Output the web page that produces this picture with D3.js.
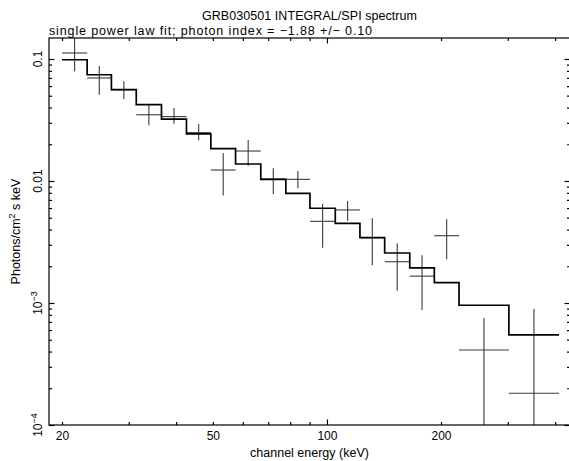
<!DOCTYPE html>
<html lang="en">
<head>
  <meta charset="UTF-8" />
  <title>GRB030501 INTEGRAL/SPI spectrum</title>
  <script src="https://d3js.org/d3.v7.min.js"></script>
  <style>
    body {
      margin: 0;
      padding: 0;
      background: #ffffff;
      font-family: 'Liberation Sans', 'DejaVu Sans', sans-serif;
    }
    svg text { fill: #000; }
    .frame { fill: none; stroke: #000; stroke-width: 1.2; }
    .axis path { display: none; }
    .axis line { stroke: #000; stroke-width: 1.2; }
    .cross { stroke: #3a3a3a; stroke-width: 1.1; fill: none; }
    .model { stroke: #000; stroke-width: 1.7; fill: none; }
  </style>
</head>
<body>
  <div id="chart"></div>

  <script>
    // channel bin edges (keV)
    const binEdges = [20, 23.3, 27.0, 31.4, 36.6, 42.6, 49.4, 57.4, 66.9, 77.9,
                      90.2, 105.2, 122.2, 142.0, 165.4, 192.0, 223.1, 302.0, 409.5];

    // folded power-law model, one value per bin (photons/cm2 s keV)
    const modelFlux = [0.0986, 0.0743, 0.0560, 0.0422, 0.0322, 0.0243, 0.0184, 0.01378, 0.01032,
                       0.00793, 0.00598, 0.00450, 0.00343, 0.00257, 0.00194, 0.001467, 0.000958, 0.000547];

    // measured flux with lower / upper 1-sigma ends
    const dataFlux = [0.112, 0.0699, 0.0560, 0.0349, 0.0337, 0.0249, 0.0123, 0.0176, 0.01038,
                      0.01032, 0.00467, 0.00579, 0.00343, 0.00218, 0.00166, 0.00356, 0.000412, 0.000182];
    const errLow = [0.0793, 0.0510, 0.0470, 0.0286, 0.0295, 0.0216, 0.0076, 0.01334, 0.00778,
                    0.00871, 0.00284, 0.00473, 0.00204, 0.00126, 0.000877, 0.00228, 0.00001, 0.00001];
    const errHigh = [0.148, 0.0877, 0.0657, 0.0422, 0.0397, 0.0293, 0.0170, 0.0217, 0.0127,
                     0.0121, 0.00648, 0.00686, 0.00495, 0.00309, 0.00246, 0.00485, 0.000754, 0.000893];

    const xMinorTicks = [20, 30, 40, 50, 60, 70, 80, 90, 200, 300, 400];
    const xMajorTicks = [100];
    const xLabelTicks = [20, 50, 100, 200];
    const yMajorTicks = [1e-4, 1e-3, 0.01, 0.1];
    const yLabels = [
      { v: 0.1, base: "0.1", exp: "" },
      { v: 0.01, base: "0.01", exp: "" },
      { v: 1e-3, base: "10", exp: "\u22123" },
      { v: 1e-4, base: "10", exp: "\u22124" }
    ];

    const W = 569, H = 461;
    const pLeft = 49, pRight = 570, pTop = 38, pBottom = 425;

    const svg = d3.select("#chart").append("svg")
      .attr("width", W).attr("height", H);

    const x = d3.scaleLog().domain([18.48, 437.8]).range([pLeft, pRight]);
    const y = d3.scaleLog().domain([1e-4, 0.1486]).range([pBottom, pTop]);

    // minor y ticks: 2..9 in each decade
    const yMinorTicks = [];
    yMajorTicks.forEach(d => {
      for (let k = 2; k <= 9; k++) {
        if (d * k <= y.domain()[1]) yMinorTicks.push(d * k);
      }
    });

    // titles (the original font runs wider, so stretch to its measured width)
    svg.append("text")
      .attr("x", (pLeft + pRight) / 2).attr("y", 20)
      .attr("text-anchor", "middle").attr("font-size", 12.5)
      .attr("textLength", 215).attr("lengthAdjust", "spacing")
      .text("GRB030501 INTEGRAL/SPI spectrum");
    svg.append("text")
      .attr("x", pLeft).attr("y", 35)
      .attr("font-size", 12.5)
      .attr("textLength", 323).attr("lengthAdjust", "spacing")
      .text("single power law fit; photon index = \u22121.88 +/\u2212 0.10");

    // ticks (inward, on all four sides)
    function tickGroup(axisFn, transform, values, size) {
      svg.append("g").attr("class", "axis")
        .attr("transform", transform)
        .call(axisFn.tickValues(values).tickSize(-size).tickFormat(""));
    }
    tickGroup(d3.axisBottom(x), `translate(0,${pBottom})`, xMinorTicks, 3);
    tickGroup(d3.axisBottom(x), `translate(0,${pBottom})`, xMajorTicks, 5.5);
    tickGroup(d3.axisTop(x), `translate(0,${pTop})`, xMinorTicks, 3);
    tickGroup(d3.axisTop(x), `translate(0,${pTop})`, xMajorTicks, 5.5);
    tickGroup(d3.axisLeft(y), `translate(${pLeft},0)`, yMinorTicks, 3);
    tickGroup(d3.axisLeft(y), `translate(${pLeft},0)`, yMajorTicks, 5.5);
    tickGroup(d3.axisRight(y), `translate(${pRight},0)`, yMinorTicks, 3);
    tickGroup(d3.axisRight(y), `translate(${pRight},0)`, yMajorTicks, 5.5);

    // x tick labels
    svg.append("g").attr("class", "axis")
      .attr("transform", `translate(0,${pBottom})`)
      .call(d3.axisBottom(x).tickValues(xLabelTicks).tickSize(0).tickPadding(6)
        .tickFormat(d3.format("d")))
      .selectAll("text")
      .attr("font-size", 12)
      .attr("font-family", "'Liberation Sans', 'DejaVu Sans', sans-serif");

    // y tick labels, rotated
    const yl = svg.append("g");
    yLabels.forEach(l => {
      const t = yl.append("text")
        .attr("transform", `translate(42,${y(l.v)}) rotate(-90)`)
        .attr("text-anchor", "middle")
        .attr("font-size", 12);
      t.append("tspan").text(l.base);
      if (l.exp) {
        t.append("tspan").attr("dy", -5).attr("font-size", 9).text(l.exp);
      }
    });

    // axis titles
    svg.append("text")
      .attr("x", (pLeft + pRight) / 2).attr("y", 457)
      .attr("text-anchor", "middle").attr("font-size", 12.5)
      .text("channel energy (keV)");
    const yt = svg.append("text")
      .attr("transform", `translate(20,${(pTop + pBottom) / 2}) rotate(-90)`)
      .attr("text-anchor", "middle").attr("font-size", 12.5);
    yt.append("tspan").text("Photons/cm");
    yt.append("tspan").attr("dy", -5).attr("font-size", 9).text("2");
    yt.append("tspan").attr("dy", 5).text(" s keV");

    // plot area
    svg.append("clipPath").attr("id", "clip")
      .append("rect").attr("x", pLeft).attr("y", pTop)
      .attr("width", pRight - pLeft).attr("height", pBottom - pTop);
    const plot = svg.append("g").attr("clip-path", "url(#clip)");

    const bins = modelFlux.map((m, i) => ({
      lo: binEdges[i], hi: binEdges[i + 1], model: m,
      val: dataFlux[i], eLo: errLow[i], eHi: errHigh[i],
      mid: Math.sqrt(binEdges[i] * binEdges[i + 1])
    }));

    // data crosses
    const crosses = plot.selectAll("g.cross").data(bins).enter().append("g").attr("class", "cross");
    crosses.append("line")
      .attr("x1", d => x(d.lo)).attr("x2", d => x(d.hi))
      .attr("y1", d => y(d.val)).attr("y2", d => y(d.val));
    crosses.append("line")
      .attr("x1", d => x(d.mid)).attr("x2", d => x(d.mid))
      .attr("y1", d => y(d.eLo)).attr("y2", d => y(d.eHi));

    // model as step histogram
    const stepPts = [];
    bins.forEach(d => {
      stepPts.push([d.lo, d.model]);
      stepPts.push([d.hi, d.model]);
    });
    plot.append("path").attr("class", "model")
      .attr("d", d3.line().x(p => x(p[0])).y(p => y(p[1]))(stepPts));

    // frame
    svg.append("rect").attr("class", "frame")
      .attr("x", pLeft).attr("y", pTop)
      .attr("width", pRight - pLeft).attr("height", pBottom - pTop);
  </script>
</body>
</html>
